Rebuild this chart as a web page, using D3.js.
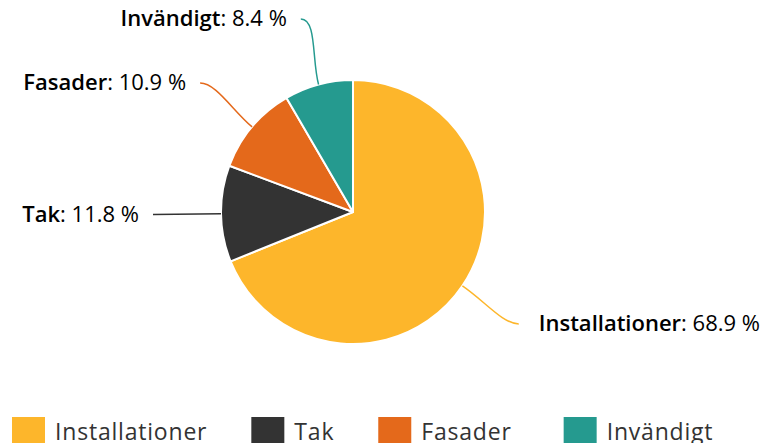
<!DOCTYPE html>
<html>
<head>
<meta charset="utf-8">
<script src="https://d3js.org/d3.v7.min.js"></script>
<style>
  body { margin: 0; background: #fff; }
  svg { display: block; font-family: "Open Sans", Lato, sans-serif; }
</style>
</head>
<body>
<svg id="chart" width="773" height="443"></svg>
<script>
// data
var categories = ["Installationer", "Tak", "Fasader", "Invändigt"];
var shares = [68.9, 11.8, 10.9, 8.4];
var colors = ["#FDB62B", "#333333", "#E4691B", "#259A8F"];

var svg = d3.select("#chart");

var cx = 353, cy = 212, radius = 132;

var data = categories.map((c, i) => ({ name: c, value: shares[i], color: colors[i] }));

var pie = d3.pie().sort(null).value(d => d.value);
var arc = d3.arc().innerRadius(0).outerRadius(radius);
var arcs = pie(data);

var g = svg.append("g").attr("transform", "translate(" + cx + "," + cy + ")");

g.selectAll("path.slice")
  .data(arcs)
  .enter()
  .append("path")
    .attr("class", "slice")
    .attr("d", arc)
    .attr("fill", d => d.data.color)
    .attr("stroke", "#fff")
    .attr("stroke-width", 2)
    .attr("stroke-linejoin", "round");

// point at radius r, angle a clockwise from 12 o'clock
function polar(r, a) { return [r * Math.sin(a), -r * Math.cos(a)]; }

var labelDist = 68;

arcs.forEach(function(d) {
  var mid = (d.startAngle + d.endAngle) / 2;
  var edge = polar(radius, mid);
  var lab = polar(radius + labelDist, mid);
  var dir = lab[0] >= 0 ? 1 : -1;
  var flat = Math.abs(lab[1] - edge[1]) < 4;

  var path;
  if (flat) {
    path = "M" + lab[0] + "," + lab[1] + "L" + edge[0] + "," + edge[1];
  } else {
    var knee = polar(radius + 26, mid);
    path = "M" + lab[0] + "," + lab[1] +
      "C" + (lab[0] - dir * 16) + "," + lab[1] + " " +
      knee[0] + "," + knee[1] + " " + edge[0] + "," + edge[1];
  }
  g.append("path")
    .attr("d", path)
    .attr("fill", "none")
    .attr("stroke", d.data.color)
    .attr("stroke-width", 1.5);

  var t = g.append("text")
    .attr("x", lab[0] + dir * (dir > 0 ? 20 : 14))
    .attr("y", lab[1] + 7)
    .attr("text-anchor", dir > 0 ? "start" : "end")
    .attr("font-size", 22)
    .attr("fill", "#000");
  t.append("tspan").attr("font-weight", 600).text(d.data.name);
  t.append("tspan").text(": " + d3.format(".1f")(d.data.value) + " %");
});

// legend
var legend = svg.append("g").attr("transform", "translate(12,417)");
var lx = 0;
data.forEach(function(d, i) {
  var item = legend.append("g").attr("transform", "translate(" + lx + ",0)");
  item.append("rect")
    .attr("width", 33).attr("height", 33)
    .attr("fill", d.color);
  var txt = item.append("text")
    .attr("x", 43)
    .attr("y", 23)
    .attr("font-size", 23)
    .attr("letter-spacing", 0.8)
    .attr("fill", "#333")
    .text(d.name);
  lx += 43 + txt.node().getComputedTextLength() + (i === 2 ? 52 : 44);
});
</script>
</body>
</html>
